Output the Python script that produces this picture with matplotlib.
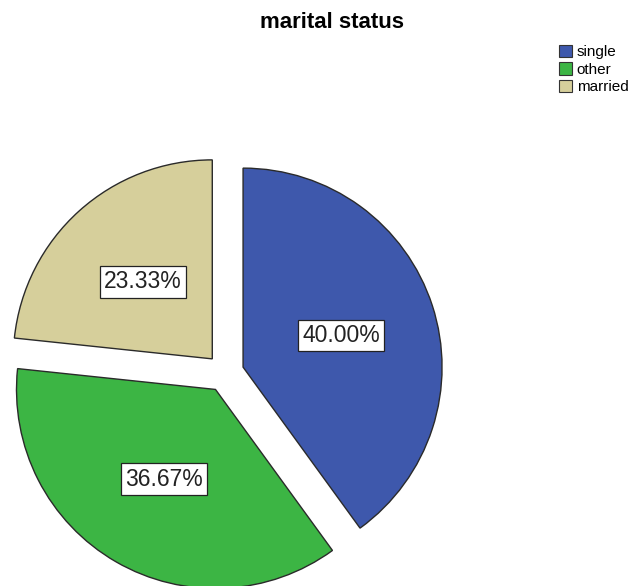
import matplotlib.pyplot as plt
from matplotlib.patches import Patch

# marital status shares (percent)
categories = ['single', 'other', 'married']
percents = [40.00, 36.67, 23.33]
colors = ['#3e58ac', '#3cb544', '#d6cf9b']

plt.rcParams['font.family'] = ['Liberation Sans', 'DejaVu Sans']

fig = plt.figure(figsize=(6.32, 5.86), dpi=100)
ax = fig.add_axes([0, 0, 1, 1])

# pie drawn in pixel-like units so it sits where the reference has it
# (explode is in data units here, not fractions of the radius)
wedges, texts, autotexts = ax.pie(
    percents,
    colors=colors,
    startangle=90,
    counterclock=False,
    explode=[19] * 3,
    center=(225, 213),
    radius=199,
    autopct='%.2f%%',
    pctdistance=0.52,
    wedgeprops=dict(edgecolor='#2a2a2a', linewidth=1.0),
    textprops=dict(fontsize=16.5, color='#222222'),
)
for t in autotexts:
    t.set_bbox(dict(facecolor='white', edgecolor='#222222', linewidth=0.9,
                    boxstyle='square,pad=0.18'))

ax.set_xlim(0, 632)
ax.set_ylim(0, 586)
ax.set_aspect('equal')
ax.axis('off')

fig.text(332 / 632, 1 - 22 / 586, 'marital status', ha='center', va='center',
         fontsize=16, fontweight='bold')

handles = [Patch(facecolor=c, edgecolor='#333333', linewidth=0.8) for c in colors]
fig.legend(handles, categories, loc='upper left',
           bbox_to_anchor=(559 / 632, 1 - 45 / 586),
           frameon=False, fontsize=11, handlelength=0.85, handleheight=0.85,
           handletextpad=0.3, labelspacing=0.2, borderpad=0, borderaxespad=0)

fig.savefig('out.png', dpi=100)
